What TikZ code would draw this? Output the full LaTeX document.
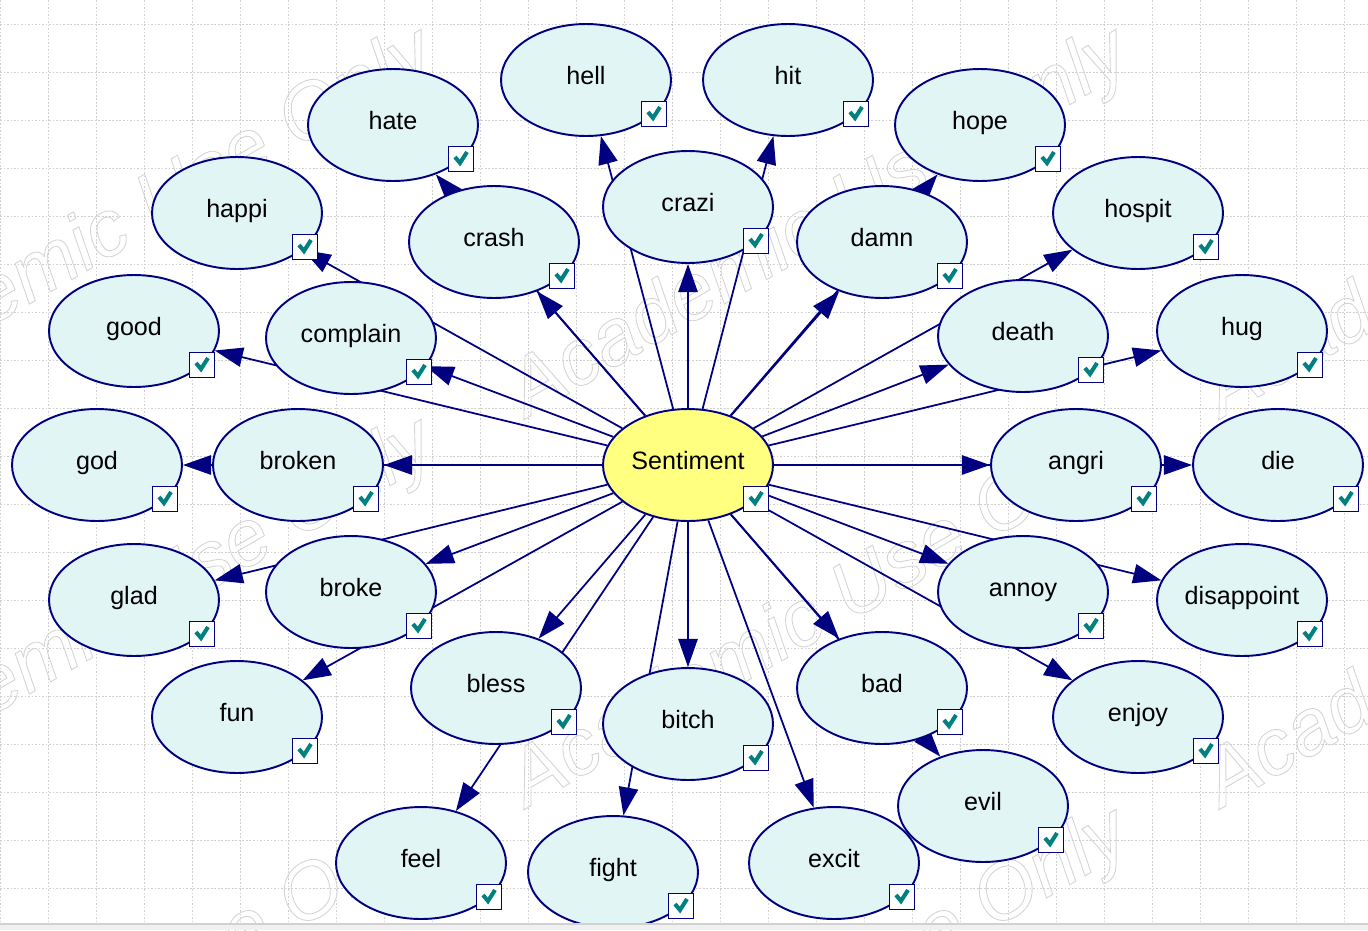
\documentclass[tikz,border=0pt]{standalone}
\usepackage{fontspec}
\setmainfont{Liberation Sans}
\usetikzlibrary{shapes.geometric, arrows.meta, backgrounds}
\definecolor{netblue}{RGB}{0,0,128}
\definecolor{nodecyan}{RGB}{226,245,245}
\definecolor{nodeyellow}{RGB}{255,255,128}
\definecolor{tickteal}{RGB}{0,128,128}
\definecolor{gridgray}{RGB}{208,208,208}
\definecolor{markgray}{RGB}{212,212,212}
\tikzset{var/.style={ellipse, draw=netblue, fill=nodecyan, line width=1.1pt, minimum width=3.4cm, minimum height=2.24cm, inner sep=0pt, text height=10pt, text depth=4.6pt, font=\fontsize{14.3}{17}\selectfont},
  target/.style={var, fill=nodeyellow},
  link/.style={draw=netblue, line width=1pt, -{Triangle[length=16pt,width=11pt]}},
  gridline/.style={gridgray, line width=0.5pt, dash pattern=on 1pt off 1pt},
  tickbox/.style={draw=netblue, fill=white, line width=1.1pt, minimum size=0.5cm, inner sep=0pt,
    path picture={\draw[tickteal, line width=2.3pt] ([shift={(-6,-2)}]path picture bounding box.center) -- ++(5,6) -- ++(7,-11);}},
  wmark/.style={anchor=base west, rotate=30, text=markgray, inner sep=0pt, font=\fontsize{45.4}{48}\selectfont\itshape}}

\begin{document}
\begin{tikzpicture}[x=0.02cm, y=-0.02cm]
\useasboundingbox (0,0) rectangle (1368,930);

                 \node[target] (sent) at (688,465) {Sentiment};

                 \node[var] (hell) at (586,80) {hell};
                 \node[var] (hit) at (788,80) {hit};
                 \node[var] (hate) at (393,125) {hate};
                 \node[var] (hope) at (980,125) {hope};
                 \node[var] (happi) at (237,213) {happi};
                 \node[var] (crash) at (494,242) {crash};
                 \node[var] (crazi) at (688,207) {crazi};
                 \node[var] (damn) at (882,242) {damn};
                 \node[var] (hospit) at (1138,213) {hospit};
                 \node[var] (good) at (134,331) {good};
                 \node[var] (complain) at (351,338) {complain};
                 \node[var] (death) at (1023,336) {death};
                 \node[var] (hug) at (1242,331) {hug};
                 \node[var] (god) at (97,465) {god};
                 \node[var] (broken) at (298,465) {broken};
                 \node[var] (angri) at (1076,465) {angri};
                 \node[var] (die) at (1278,465) {die};
                 \node[var] (glad) at (134,600) {glad};
                 \node[var] (broke) at (351,592) {broke};
                 \node[var] (annoy) at (1023,592) {annoy};
                 \node[var] (disappoint) at (1242,600) {disappoint};
                 \node[var] (fun) at (237,717) {fun};
                 \node[var] (bless) at (496,688) {bless};
                 \node[var] (bitch) at (688,724) {bitch};
                 \node[var] (bad) at (882,688) {bad};
                 \node[var] (enjoy) at (1138,717) {enjoy};
                 \node[var] (evil) at (983,806) {evil};
                 \node[var] (feel) at (421,863) {feel};
                 \node[var] (fight) at (613,872) {fight};
                 \node[var] (excit) at (834,863) {excit};

                 \foreach \n in {sent,hell,hit,hate,hope,happi,crash,crazi,damn,hospit,good,complain,death,hug,god,broken,angri,die,glad,broke,annoy,disappoint,fun,bless,bitch,bad,enjoy,evil,feel,fight,excit}
                   \node[tickbox] (ck-\n) at ([shift={(68,34)}]\n.center) {};

                 \begin{pgfonlayer}{background}
                 \foreach \gx in {0,48,...,1368} \draw[gridline] (\gx,0) -- (\gx,924);
                 \foreach \gy in {24,72,...,924} \draw[gridline] (0,\gy) -- (1368,\gy);
                 \foreach \i in {-1,0,1}
                   \foreach \j in {0,1,2}
                     \node[wmark] (wm-\i-\j) at (527+695*\i,418+390*\j) {\special{pdf:literal direct 1 Tr 0.5 w}Academic Use Only};
                 \foreach \n in {hell,hit,hate,hope,happi,crash,crazi,damn,hospit,good,complain,death,hug,god,broken,angri,die,glad,broke,annoy,disappoint,fun,bless,bitch,bad,enjoy,evil,feel,fight,excit}
                   \draw[link] (sent) -- (\n);
                 \end{pgfonlayer}

                 \fill[black!6] (0,924) rectangle (1368,930);
                 \draw[black!18, line width=0.6pt] (0,924) -- (1368,924);
\end{tikzpicture}
\end{document}
